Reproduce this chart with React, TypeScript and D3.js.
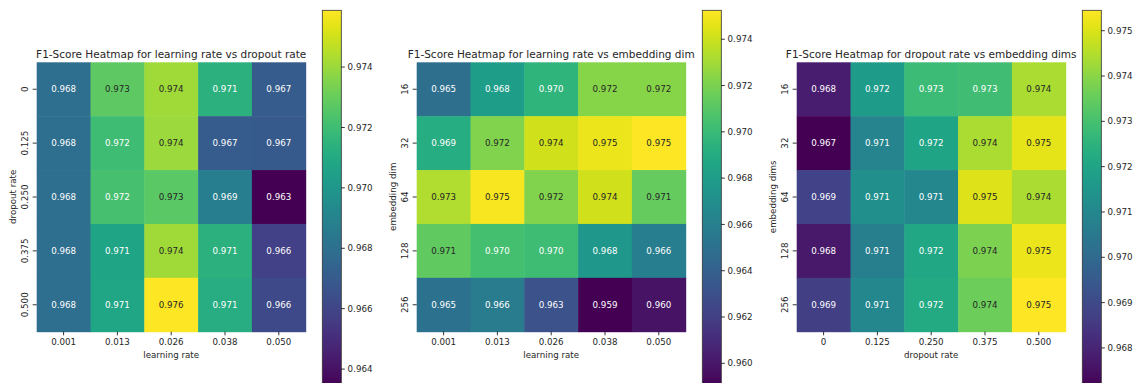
import React from "react";
import * as d3 from "d3";

const lrLabels = ["0.001", "0.013", "0.026", "0.038", "0.050"];
const dropLabels = ["0", "0.125", "0.250", "0.375", "0.500"];
const embLabels = ["16", "32", "64", "128", "256"];

// rows = y categories, columns = x categories
const lrVsDropout = [
  [0.9679, 0.9728, 0.9741, 0.9714, 0.9670],
  [0.9679, 0.9720, 0.9740, 0.9670, 0.9669],
  [0.9679, 0.9722, 0.9727, 0.9687, 0.96344],
  [0.9679, 0.9707, 0.9741, 0.9714, 0.9658],
  [0.9679, 0.9708, 0.97588, 0.9712, 0.9662],
];
const lrVsEmb = [
  [0.9649, 0.9680, 0.9696, 0.9723, 0.9723],
  [0.9691, 0.9722, 0.9741, 0.9748, 0.97525],
  [0.9733, 0.9751, 0.9722, 0.9741, 0.9714],
  [0.9713, 0.9704, 0.9702, 0.9677, 0.9659],
  [0.9651, 0.9657, 0.9631, 0.95902, 0.9598],
];
const dropVsEmb = [
  [0.9678, 0.9717, 0.9728, 0.9729, 0.9744],
  [0.96716, 0.9709, 0.9720, 0.9744, 0.9751],
  [0.9688, 0.9713, 0.9710, 0.9750, 0.9744],
  [0.9677, 0.9707, 0.9721, 0.9738, 0.9752],
  [0.9687, 0.9710, 0.9722, 0.9736, 0.97545],
];

const ticks1 = [0.964, 0.966, 0.968, 0.970, 0.972, 0.974];
const ticks2 = [0.960, 0.962, 0.964, 0.966, 0.968, 0.970, 0.972, 0.974];
const ticks3 = [0.968, 0.969, 0.970, 0.971, 0.972, 0.973, 0.974, 0.975];

const panels = [
  {
    title: "F1-Score Heatmap for learning rate vs dropout rate",
    xLabels: lrLabels, yLabels: dropLabels, xTitle: "learning rate", yTitle: "dropout rate",
    data: lrVsDropout, ticks: ticks1, ox: 0,
  },
  {
    title: "F1-Score Heatmap for learning rate vs embedding dim",
    xLabels: lrLabels, yLabels: embLabels, xTitle: "learning rate", yTitle: "embedding dim",
    data: lrVsEmb, ticks: ticks2, ox: 380,
  },
  {
    title: "F1-Score Heatmap for dropout rate vs embedding dims",
    xLabels: dropLabels, yLabels: embLabels, xTitle: "dropout rate", yTitle: "embedding dims",
    data: dropVsEmb, ticks: ticks3, ox: 760,
  },
];

const FONT = "DejaVu Sans, sans-serif";
const TXT = "#262626";
const FS = 8.7;
const TFS = 10.5;

function textColor(c: string) {
  const rgb = d3.rgb(c);
  const lin = (v: number) => {
    const s = v / 255;
    return s <= 0.03928 ? s / 12.92 : Math.pow((s + 0.055) / 1.055, 2.4);
  };
  const lum = 0.2126 * lin(rgb.r) + 0.7152 * lin(rgb.g) + 0.0722 * lin(rgb.b);
  return lum > 0.408 ? TXT : "#ffffff";
}

function Panel({ p, idx }: { p: typeof panels[number]; idx: number }) {
  const left = p.ox + 36.7;
  const top = 62.3;
  const size = 269;
  const x = d3.scaleBand<string>().domain(p.xLabels).range([left, left + size]);
  const y = d3.scaleBand<string>().domain(p.yLabels).range([top, top + size + 0.4]);
  const all = p.data.flat();
  const [vmin, vmax] = d3.extent(all) as [number, number];
  const color = d3.scaleSequential(d3.interpolateViridis).domain([vmin, vmax]);
  const cbLeft = left + 285.6;
  const cbW = 19;
  const cbTop = 10.3;
  const cbBottom = 386;
  const cy = d3.scaleLinear().domain([vmin, vmax]).range([cbBottom, cbTop]);
  const gid = `grad${idx}`;
  const stops = d3.range(0, 1.0001, 0.02);
  return (
    <g>
      <defs>
        <linearGradient id={gid} x1="0" y1="1" x2="0" y2="0">
          {stops.map((t) => (
            <stop key={t} offset={t} stopColor={d3.interpolateViridis(t)} />
          ))}
        </linearGradient>
      </defs>
      {p.data.map((row, i) =>
        row.map((v, j) => (
          <rect
            key={`${i}-${j}`}
            x={x(p.xLabels[j])}
            y={y(p.yLabels[i])}
            width={x.bandwidth() + 0.5}
            height={y.bandwidth() + 0.5}
            fill={color(v)}
          />
        ))
      )}
      {p.data.map((row, i) =>
        row.map((v, j) => (
          <text
            key={`t${i}-${j}`}
            x={(x(p.xLabels[j]) as number) + x.bandwidth() / 2}
            y={(y(p.yLabels[i]) as number) + y.bandwidth() / 2 + 3.1}
            textAnchor="middle"
            fontSize={FS}
            fontFamily={FONT}
            fill={textColor(color(v))}
          >
            {d3.format(".3f")(v)}
          </text>
        ))
      )}
      {p.xLabels.map((l) => {
        const cx = (x(l) as number) + x.bandwidth() / 2;
        return (
          <g key={l}>
            <line x1={cx} x2={cx} y1={top + size + 0.4} y2={top + size + 4} stroke="#000" strokeWidth={0.8} />
            <text x={cx} y={344.6} textAnchor="middle" fontSize={FS} fontFamily={FONT} fill={TXT}>
              {l}
            </text>
          </g>
        );
      })}
      <text x={left + size / 2} y={357.6} textAnchor="middle" fontSize={FS} fontFamily={FONT} fill={TXT}>
        {p.xTitle}
      </text>
      {p.yLabels.map((l) => {
        const cyy = (y(l) as number) + y.bandwidth() / 2;
        return (
          <g key={l}>
            <line x1={left - 4} x2={left} y1={cyy} y2={cyy} stroke="#000" strokeWidth={0.8} />
            <text
              transform={`translate(${p.ox + 27.8},${cyy}) rotate(-90)`}
              textAnchor="middle"
              fontSize={FS}
              fontFamily={FONT}
              fill={TXT}
            >
              {l}
            </text>
          </g>
        );
      })}
      <text
        transform={`translate(${p.ox + 15.8},${top + size / 2}) rotate(-90)`}
        textAnchor="middle"
        fontSize={FS}
        fontFamily={FONT}
        fill={TXT}
      >
        {p.yTitle}
      </text>
      <text x={left + size / 2} y={57.8} textAnchor="middle" fontSize={TFS} fontFamily={FONT} fill={TXT}>
        {p.title}
      </text>
      <rect x={cbLeft} y={cbTop} width={cbW} height={cbBottom - cbTop} fill={`url(#${gid})`} stroke="#333" strokeWidth={0.8} />
      {p.ticks.map((t) => (
        <g key={t}>
          <line x1={cbLeft + cbW} x2={cbLeft + cbW + 3.5} y1={cy(t)} y2={cy(t)} stroke="#000" strokeWidth={0.8} />
          <text x={cbLeft + cbW + 6.3} y={cy(t) + 3.1} fontSize={FS} fontFamily={FONT} fill={TXT}>
            {d3.format(".3f")(t)}
          </text>
        </g>
      ))}
    </g>
  );
}

export default function App() {
  return (
    <svg
      width={1141}
      height={383}
      style={{ position: "absolute", left: 0, top: 0, background: "#fff" }}
    >
      <rect width={1141} height={383} fill="#fff" />
      {panels.map((p, i) => (
        <Panel key={i} p={p} idx={i} />
      ))}
    </svg>
  );
}
